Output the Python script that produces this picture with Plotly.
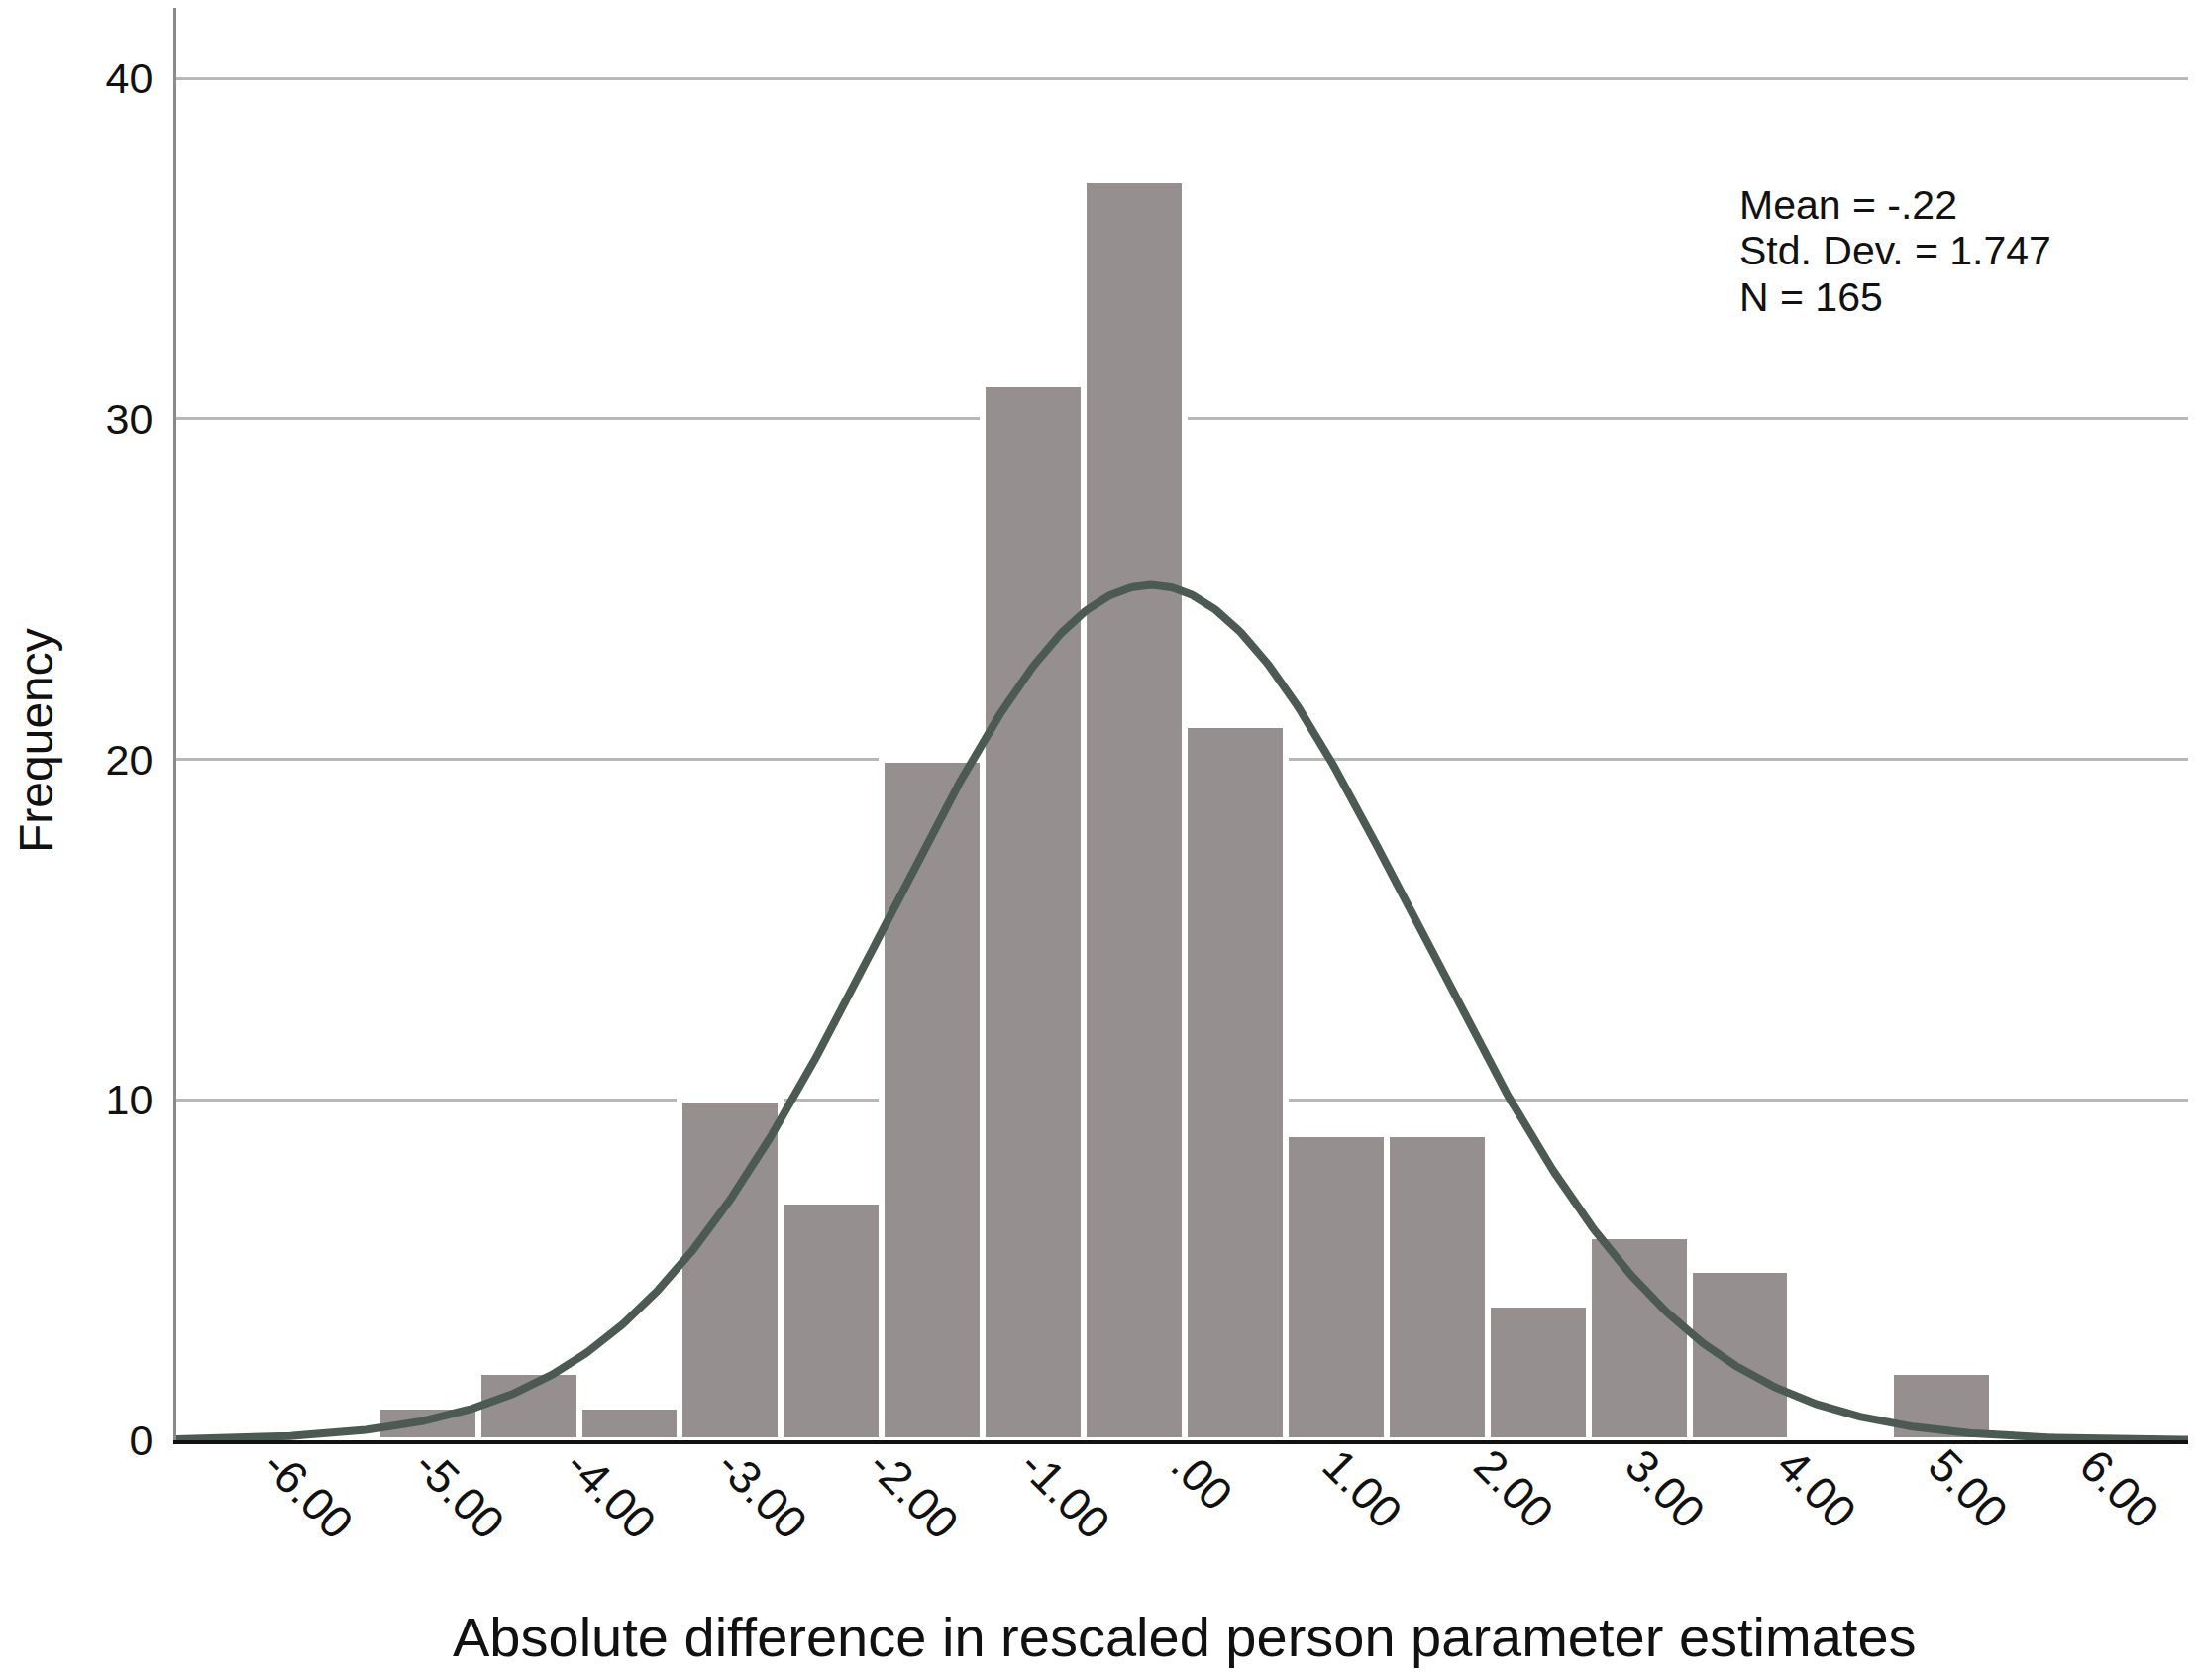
import plotly.graph_objects as go
import numpy as np

# ---- data ----
bin_centers = [-5.0, -4.3333, -3.6667, -3.0, -2.3333, -1.6667, -1.0, -0.3333,
               0.3333, 1.0, 1.6667, 2.3333, 3.0, 3.6667, 4.3333, 5.0]
frequencies = [1, 2, 1, 10, 7, 20, 31, 37, 21, 9, 9, 4, 6, 5, 0, 2]
bin_width = 2.0 / 3.0

mean_val = -0.22
std_val = 1.747
n_val = 165

x_tickvals = [-6, -5, -4, -3, -2, -1, 0, 1, 2, 3, 4, 5, 6]
x_ticktext = ["-6.00", "-5.00", "-4.00", "-3.00", "-2.00", "-1.00", ".00",
              "1.00", "2.00", "3.00", "4.00", "5.00", "6.00"]
y_tickvals = [0, 10, 20, 30, 40]

stats_lines = ["Mean = -.22", "Std. Dev. = 1.747", "N = 165"]
x_title = "Absolute difference in rescaled person parameter estimates"
y_title = "Frequency"

# ---- normal curve defined by the stated statistics ----
x_range = [-6.66, 6.66]
xs = np.linspace(x_range[0], x_range[1], 800)
ys = n_val * bin_width / (std_val * np.sqrt(2 * np.pi)) * np.exp(-0.5 * ((xs - mean_val) / std_val) ** 2)

FONT = "Liberation Sans, Arial, sans-serif"

W, H = 2209, 1688          # page body adds an 8px margin
L, R, T, B = 170, 3, 0, 242
plot_w = W - L - R
plot_h = H - T - B

fig = go.Figure()
fig.add_trace(go.Bar(
    x=bin_centers, y=frequencies, width=[bin_width] * len(bin_centers),
    marker=dict(color="#958f8f", line=dict(color="white", width=6)),
    showlegend=False, hoverinfo="x+y",
))
fig.add_trace(go.Scatter(
    x=xs, y=ys, mode="lines",
    line=dict(color="#4b5a53", width=8),
    showlegend=False, hoverinfo="skip",
))

fig.update_layout(
    width=W, height=H,
    margin=dict(l=L, r=R, t=T, b=B),
    paper_bgcolor="white", plot_bgcolor="white",
    font=dict(family=FONT, color="#111111"),
    bargap=0,
)
fig.update_xaxes(
    range=x_range, tickvals=x_tickvals, ticktext=x_ticktext,
    tickangle=45, tickfont=dict(size=46, family=FONT, color="#111111"),
    ticks="", showgrid=False, zeroline=False,
    showline=True, linecolor="#111111", linewidth=4,
    ticklabelstandoff=-24,
)
fig.update_yaxes(
    range=[0, 42.07], tickvals=y_tickvals,
    tickfont=dict(size=43, family=FONT, color="#111111"),
    ticks="", showgrid=True, gridcolor="#b8b8b8", gridwidth=3,
    zeroline=False, showline=True, linecolor="#8a8a8a", linewidth=3,
    ticklabelstandoff=12,
)

# stats box (positions in figure pixels from the top)
stat_px = [199.5, 245.5, 292.5]
for txt, py in zip(stats_lines, stat_px):
    fig.add_annotation(x=3.65, y=(plot_h - py) / plot_h, xref="x", yref="paper", text=txt,
                       showarrow=False, xanchor="left", yanchor="middle",
                       font=dict(size=41, family=FONT, color="#111111"))

# axis titles
fig.add_annotation(x=0.5, y=(plot_h - 1644) / plot_h, xref="paper", yref="paper",
                   text=x_title, showarrow=False, xanchor="center", yanchor="middle",
                   font=dict(size=56, family=FONT, color="#111111"))
fig.add_annotation(x=(29 - L) / plot_w, y=(plot_h - 740) / plot_h, xref="paper", yref="paper",
                   text=y_title, showarrow=False, textangle=-90,
                   xanchor="center", yanchor="middle",
                   font=dict(size=48, family=FONT, color="#111111"))

fig.write_html("out.html")
